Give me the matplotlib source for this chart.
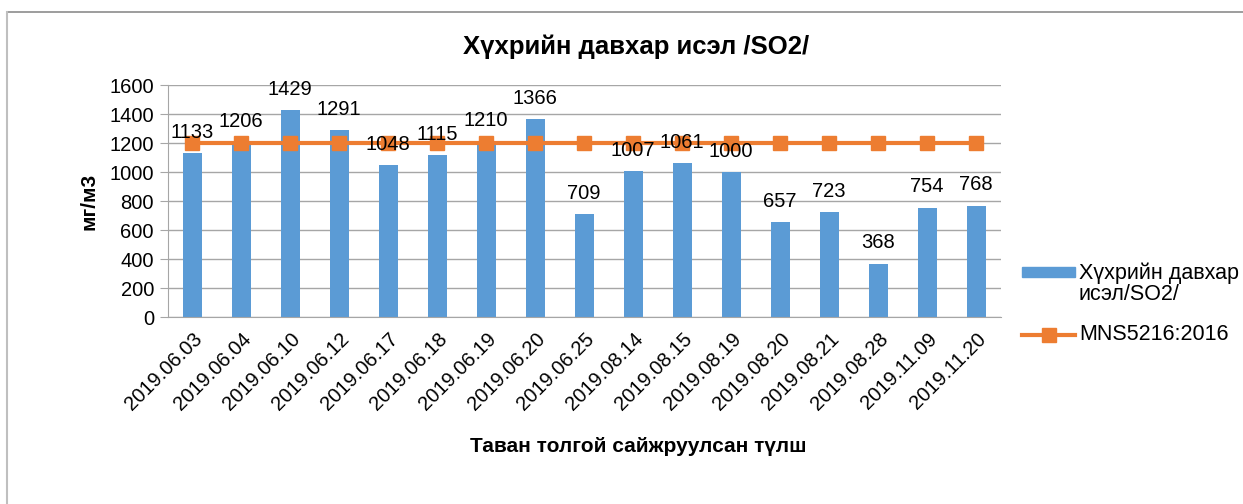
import matplotlib.pyplot as plt
from matplotlib.lines import Line2D
from matplotlib.patches import Rectangle
import numpy as np

plt.rcParams['font.family'] = ['Liberation Sans', 'DejaVu Sans']

# Data
dates = ['2019.06.03', '2019.06.04', '2019.06.10', '2019.06.12', '2019.06.17',
         '2019.06.18', '2019.06.19', '2019.06.20', '2019.06.25', '2019.08.14',
         '2019.08.15', '2019.08.19', '2019.08.20', '2019.08.21', '2019.08.28',
         '2019.11.09', '2019.11.20']
so2 = [1133, 1206, 1429, 1291, 1048, 1115, 1210, 1366, 709, 1007,
       1061, 1000, 657, 723, 368, 754, 768]
standard = [1200] * len(dates)

bar_color = '#5B9BD5'
line_color = '#ED7D31'

W, H = 1243, 504
fig = plt.figure(figsize=(W / 100, H / 100), dpi=100)
ax = fig.add_axes([0.135, 0.371, 0.670, 0.460])

def fx(px):
    return px / W

def fy(py):
    return 1 - py / H

x = np.arange(len(dates))
ax.bar(x, so2, width=0.39, color=bar_color, zorder=2)
ax.plot(x, standard, color=line_color, lw=3, marker='s', markersize=10,
        zorder=3)

for xi, v in zip(x, so2):
    ax.annotate(str(v), (xi, v), xytext=(0, 11), textcoords='offset points',
                ha='center', va='baseline', fontsize=14.5, zorder=4)

ax.set_xlim(-0.5, len(dates) - 0.5)
ax.set_ylim(0, 1600)
ax.set_yticks(range(0, 1601, 200))
ax.set_xticks(x)
ax.set_xticklabels(dates, rotation=45, ha='right', rotation_mode='anchor', fontsize=14.5)
ax.tick_params(axis='y', labelsize=14.5, length=6, color='#A6A6A6', pad=4)
ax.tick_params(axis='x', length=0, pad=9)
ax.grid(axis='y', color='#A6A6A6', lw=1, zorder=0)
for s in ['top', 'right']:
    ax.spines[s].set_visible(False)
for s in ['left', 'bottom']:
    ax.spines[s].set_color('#A6A6A6')

fig.text(fx(636), fy(47), 'Хүхрийн давхар исэл /SO2/', fontsize=18.5,
         fontweight='bold', ha='center', va='center')
ax.set_ylabel('мг/м3', fontsize=15, fontweight='bold', labelpad=8)
fig.text(fx(638), fy(447), 'Таван толгой сайжруулсан түлш', fontsize=15,
         fontweight='bold', ha='center', va='center')

# legend (Excel style: bar swatch aligned with first line of its label)
fig.add_artist(Rectangle((fx(1022), fy(277)), fx(53), 10 / H,
                         transform=fig.transFigure, color=bar_color))
fig.text(fx(1079), fy(262), 'Хүхрийн давхар\nисэл/SO2/', fontsize=15.5,
         ha='left', va='top', linespacing=1.05)
fig.add_artist(Line2D([fx(1022), fx(1075)], [fy(335), fy(335)], color=line_color,
                      lw=3, transform=fig.transFigure))
fig.add_artist(Line2D([fx(1048.5)], [fy(335)], color=line_color, marker='s',
                      markersize=10, linestyle='none', transform=fig.transFigure))
fig.text(fx(1079), fy(335), 'MNS5216:2016', fontsize=15.5, ha='left', va='center')

# outer chart border (top and left visible)
fig.add_artist(Line2D([0.0056, 1.0], [0.976, 0.976], color='#8C8C8C', lw=1.2))
fig.add_artist(Line2D([0.0056, 0.0056], [0.0, 0.976], color='#BFBFBF', lw=1.5))

fig.savefig('out.png', dpi=100)
